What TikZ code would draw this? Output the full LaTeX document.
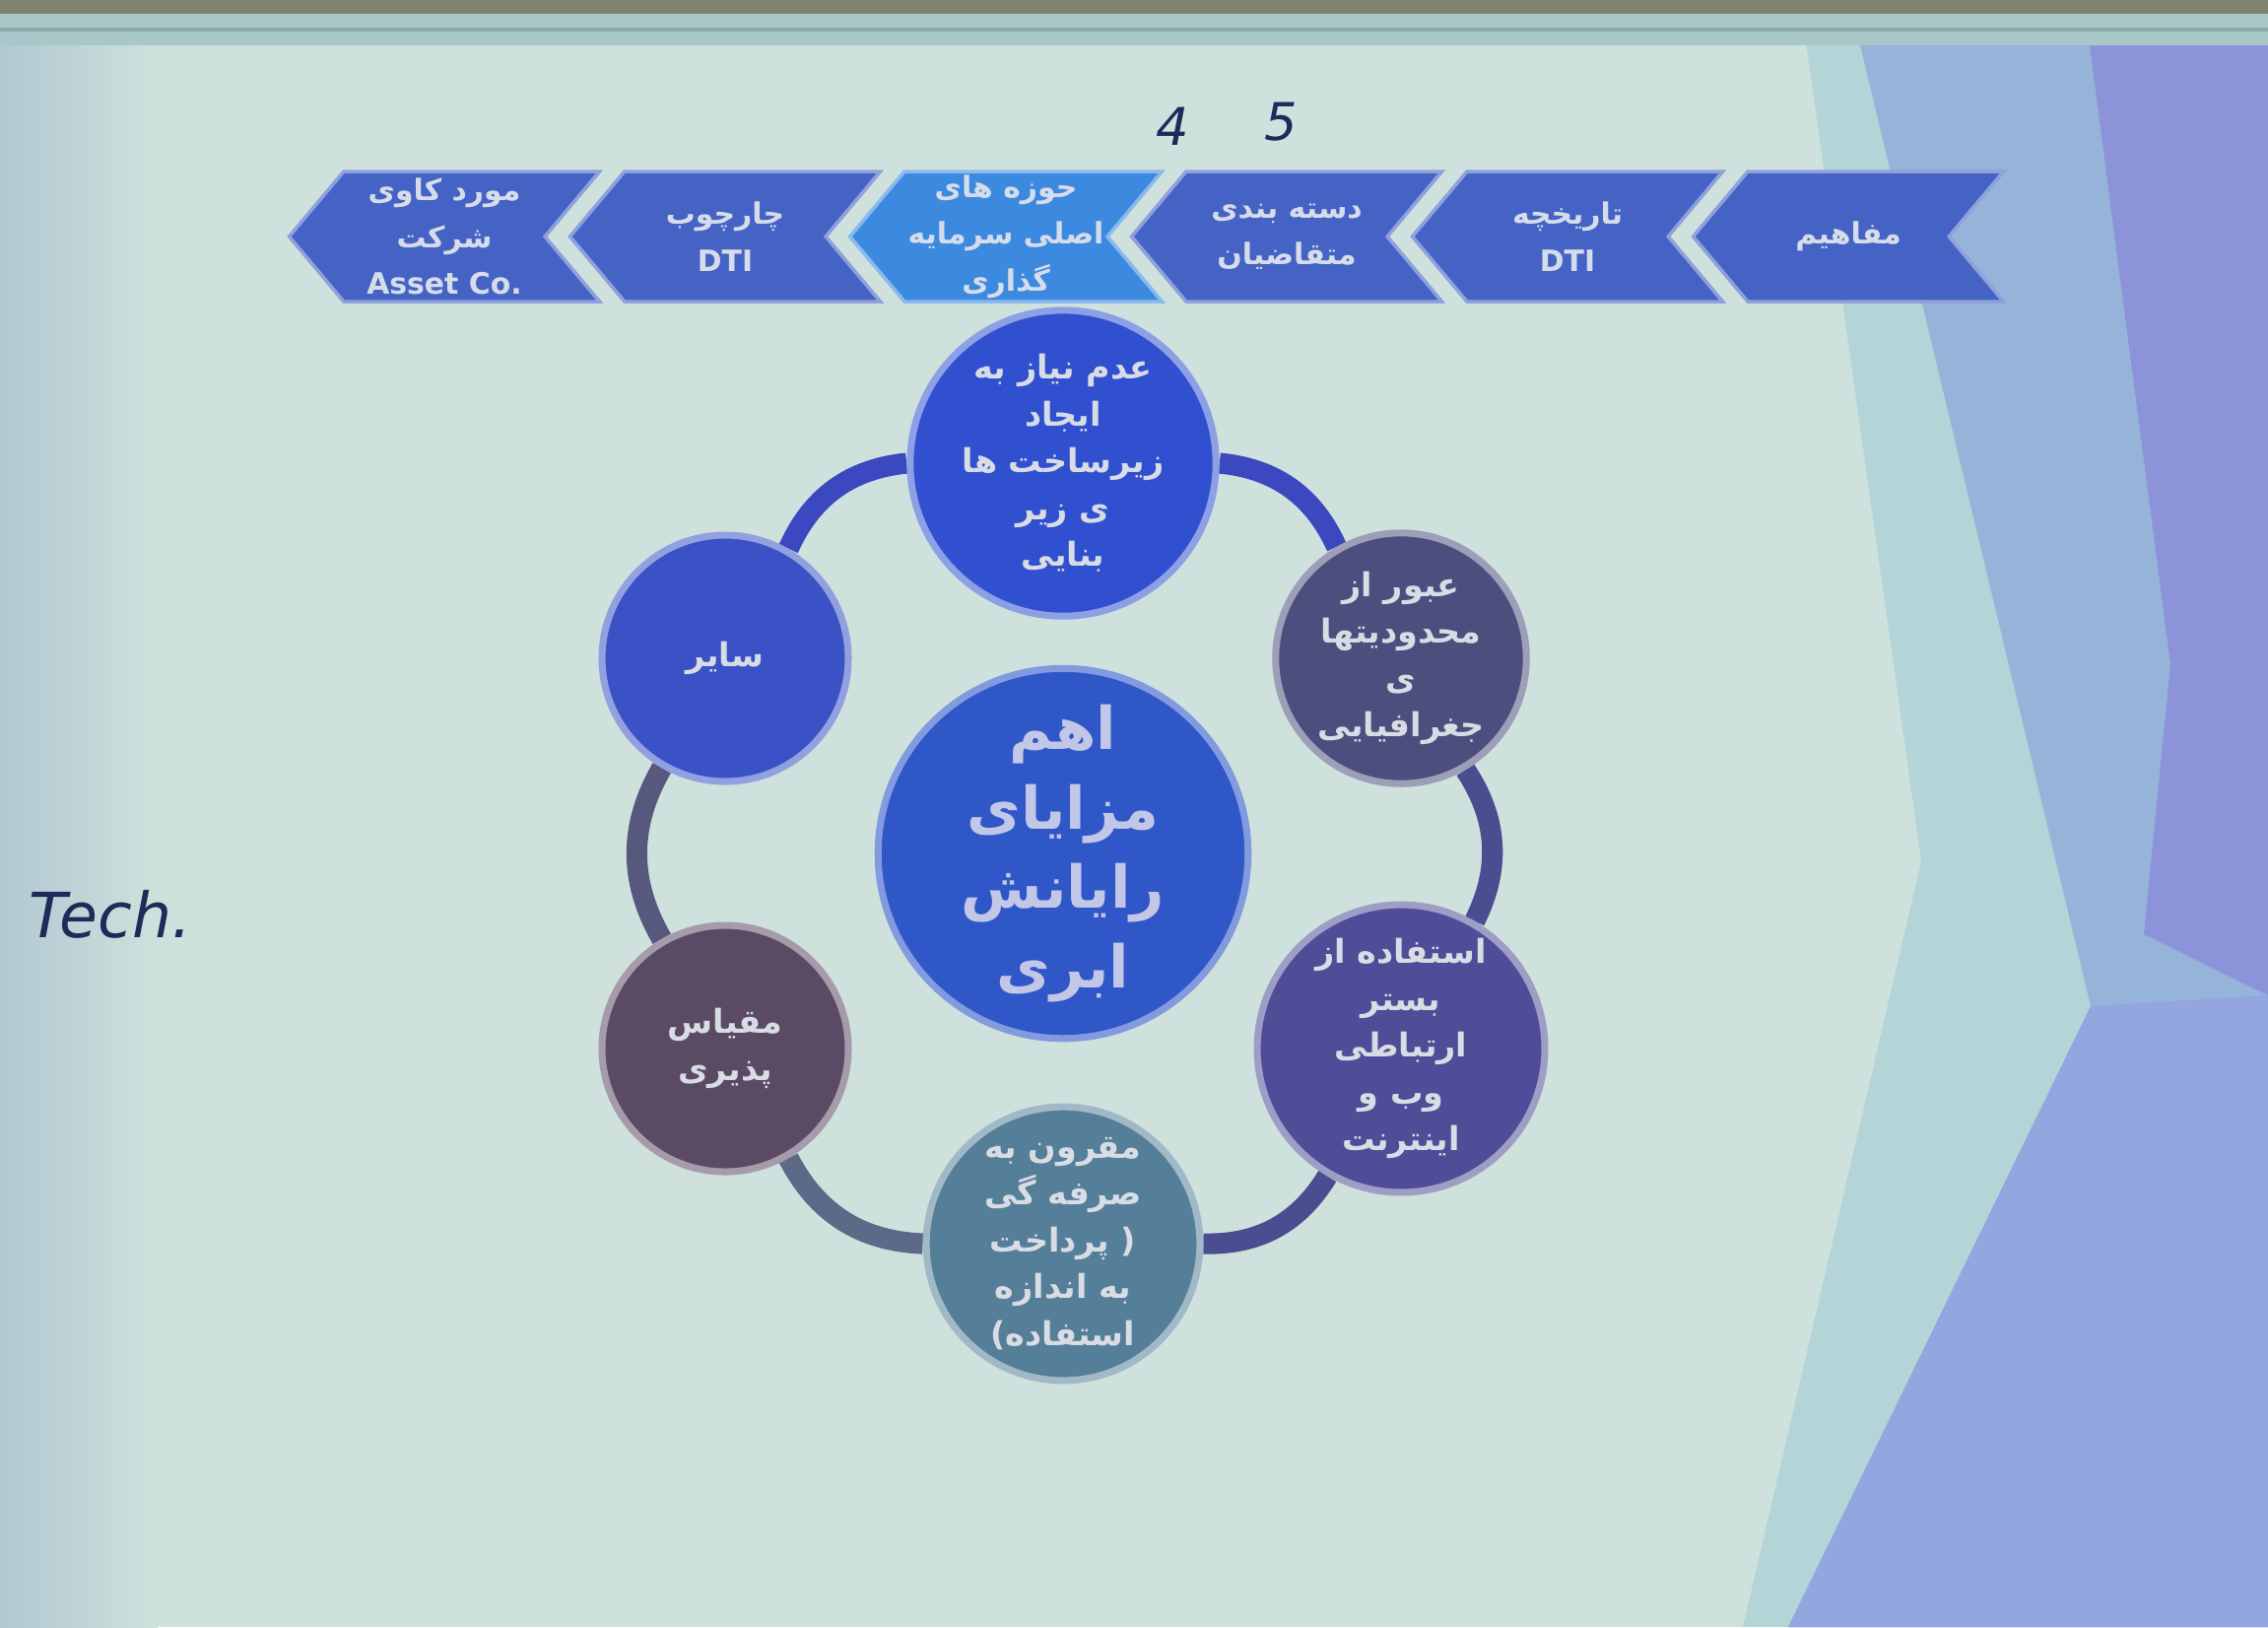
\documentclass[tikz,border=0pt]{standalone}
\usepackage{fontspec}
\setmainfont{DejaVu Sans}
\newfontfamily\arabicfont[Script=Arabic]{DejaVu Sans}
\TeXXeTstate=1
\usetikzlibrary{shapes.symbols}
\pgfdeclarelayer{back}
\pgfdeclarelayer{mid}
\pgfsetlayers{back,mid,main}
\newcommand{\fatxt}[1]{{\arabicfont\beginR #1\endR}}
\definecolor{slidebg}{HTML}{CFE1DC}
\definecolor{edgebg}{HTML}{B0C8D2}
\definecolor{bandcyan}{HTML}{B3D5D8}
\definecolor{bandsteel}{HTML}{96B3DA}
\definecolor{bandviolet}{HTML}{8C93D8}
\definecolor{bandlow}{HTML}{93A6E0}
\definecolor{raildark}{HTML}{7E8470}
\definecolor{raillight}{HTML}{A9C6C8}
\definecolor{railline}{HTML}{8FA9AC}
\definecolor{chevblue}{HTML}{4463C4}
\definecolor{chevlight}{HTML}{3C8AE0}
\definecolor{chevtext}{HTML}{D6DCEA}
\definecolor{petaltext}{HTML}{D8DCE4}
\definecolor{hubblue}{HTML}{2F57C8}
\definecolor{ringblue}{HTML}{4A4E90}
\definecolor{ringtop}{HTML}{3B48C0}
\definecolor{ringgray}{HTML}{5C6A88}
\definecolor{ringslate}{HTML}{56587E}
\definecolor{inkblue}{HTML}{1E2A5A}
\definecolor{zirsakhtfill}{RGB}{48,80,208}
\definecolor{joghrafiafill}{RGB}{76,78,126}
\definecolor{internetfill}{RGB}{79,76,152}
\definecolor{sarfefill}{RGB}{85,126,152}
\definecolor{meghyasfill}{RGB}{91,74,100}
\definecolor{sayerfill}{RGB}{58,82,198}

\begin{document}
\begin{tikzpicture}[x=0.1mm, y=-0.1mm,
    chev/.style={signal, signal to=west, signal from=east, signal pointer angle=100,
      fill=chevblue, draw=chevblue!60!white, line width=1pt,
      minimum width=31.5mm, minimum height=13.2mm, inner sep=1pt,
      text=chevtext, align=center, font=\bfseries\fontsize{8.5}{13.5}\selectfont},
    petal/.style={circle, minimum size=25mm, inner sep=1pt, line width=2pt,
      fill=#1, draw=#1!55!white, text=petaltext, align=center,
      font=\bfseries\fontsize{9.5}{13.5}\selectfont},
    hub/.style={circle, minimum size=36.5mm, inner sep=1pt, line width=2pt,
      fill=hubblue, draw=hubblue!60!white, text=petaltext!90!blue, align=center,
      font=\bfseries\fontsize{17}{23}\selectfont},
    ring/.style={line width=6pt, draw=ringblue},
    hand/.style={text=inkblue}
]
\useasboundingbox (0,0) rectangle (2302,1651);

% slide background
\begin{pgfonlayer}{back}
  \fill[slidebg] (0,0) rectangle (2302,1651);
  \shade[left color=edgebg, right color=slidebg] (0,40) rectangle (160,1651);
  \fill[bandcyan] (1827,0) -- (2302,0) -- (2302,1651) -- (1769,1651) -- (1950,874) -- cycle;
  \fill[bandsteel] (1877,0) -- (2302,0) -- (2302,1651) -- (1815,1651) -- (2122,1021) -- cycle;
  \fill[bandviolet] (2115,0) -- (2302,0) -- (2302,1010) -- (2176,948) -- (2203,674) -- cycle;
  \fill[bandlow] (2122,1021) -- (2302,1010) -- (2302,1651) -- (1815,1651) -- cycle;
  \fill[raildark] (0,0) rectangle (2302,14);
  \fill[raillight] (0,14) rectangle (2302,46);
  \draw[railline, line width=1pt] (0,30) -- (2302,30);
\end{pgfonlayer}

% Chevrons
\node[chev] (mafahim) at (1876,240) {\fatxt{مفاهیم}};
\node[chev] (tarikh) at (1591,240) {\fatxt{تاریخچه}\\DTI};
\node[chev] (daste) at (1306,240) {\fatxt{دسته بندی}\\\fatxt{متقاضیان}};
\node[chev, fill=chevlight, draw=chevlight!60!white] (sarmaye) at (1021,240) {\fatxt{حوزه های}\\\fatxt{اصلی سرمایه}\\\fatxt{گذاری}};
\node[chev] (charchoob) at (736,240) {\fatxt{چارچوب}\\DTI};
\node[chev] (asset) at (451,240) {\fatxt{مورد کاوی}\\\fatxt{شرکت}\\Asset Co.};

% Circles
\node[hub] (hub) at (1079,866) {\fatxt{اهم}\\\fatxt{مزایای}\\\fatxt{رایانش}\\\fatxt{ابری}};
\node[petal=zirsakhtfill] (zirsakht) at (1079,470)
  {\fatxt{عدم نیاز به}\\\fatxt{ایجاد}\\\fatxt{زیرساخت ها}\\\fatxt{ی زیر}\\\fatxt{بنایی}};
\node[petal=joghrafiafill] (joghrafia) at (1422,668)
  {\fatxt{عبور از}\\\fatxt{محدودیتها}\\\fatxt{ی}\\\fatxt{جغرافیایی}};
\node[petal=internetfill] (internet) at (1422,1064)
  {\fatxt{استفاده از}\\\fatxt{بستر}\\\fatxt{ارتباطی}\\\fatxt{وب و}\\\fatxt{اینترنت}};
\node[petal=sarfefill] (sarfe) at (1079,1262)
  {\fatxt{مقرون به}\\\fatxt{صرفه گی}\\\fatxt{( پرداخت}\\\fatxt{به اندازه}\\\fatxt{استفاده)}};
\node[petal=meghyasfill] (meghyas) at (736,1064)
  {\fatxt{مقیاس}\\\fatxt{پذیری}};
\node[petal=sayerfill] (sayer) at (736,668)
  {\fatxt{سایر}};

% Ring
\begin{pgfonlayer}{mid}
  \draw[ring, draw=ringtop] (zirsakht) to[bend left=30] (joghrafia);
  \draw[ring] (joghrafia) to[bend left=30] (internet);
  \draw[ring] (internet) to[bend left=30] (sarfe);
  \draw[ring, draw=ringgray] (sarfe) to[bend left=30] (meghyas);
  \draw[ring, draw=ringslate] (meghyas) to[bend left=30] (sayer);
  \draw[ring, draw=ringtop] (sayer) to[bend left=30] (zirsakht);
\end{pgfonlayer}

% handwriting on the screen
\node[hand, font=\itshape\fontsize{15}{15}\selectfont] (four) at (1190,128) {4};
\node[hand, font=\itshape\fontsize{15}{15}\selectfont] (five) at (1300,124) {5};
\node[hand, font=\itshape\fontsize{18}{18}\selectfont] (tech) at (112,928) {Tech.};
\end{tikzpicture}
\end{document}
